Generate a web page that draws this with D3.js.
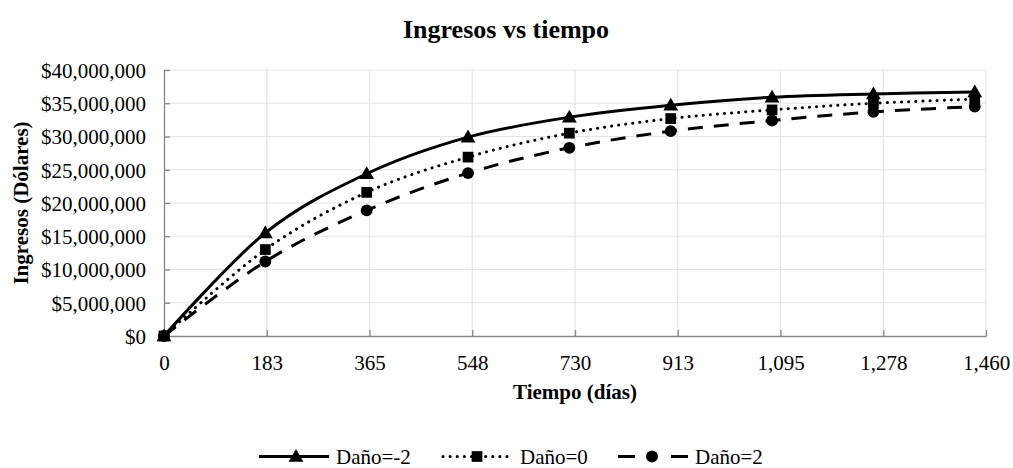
<!DOCTYPE html>
<html>
<head>
<meta charset="utf-8">
<script src="https://cdn.jsdelivr.net/npm/d3@7"></script>
<style>
  html, body { margin: 0; padding: 0; background: #fff; }
  svg { display: block; font-family: "Liberation Serif", "Times New Roman", serif; }
</style>
</head>
<body>
<svg id="chart" width="1013" height="468"></svg>
<script>
// ---- Data ----
const days = [0, 180, 360, 540, 720, 900, 1080, 1260, 1440];
const danoMinus2 = [0, 15.5e6, 24.4e6, 29.9e6, 32.9e6, 34.7e6, 35.9e6, 36.4e6, 36.7e6];
const dano0      = [0, 13.0e6, 21.6e6, 26.9e6, 30.5e6, 32.7e6, 34.0e6, 35.0e6, 35.6e6];
const dano2      = [0, 11.2e6, 18.9e6, 24.5e6, 28.3e6, 30.8e6, 32.4e6, 33.7e6, 34.5e6];
const seriesNames = ["Daño=-2", "Daño=0", "Daño=2"];
const xTickValues = [0, 182.5, 365, 547.5, 730, 912.5, 1095, 1277.5, 1460];
const xTickLabels = ["0", "183", "365", "548", "730", "913", "1,095", "1,278", "1,460"];
const yTickValues = [0, 5e6, 10e6, 15e6, 20e6, 25e6, 30e6, 35e6, 40e6];

(function () {
const svg = d3.select("#chart");
const pLeft = 164, pRight = 986, pTop = 70, pBottom = 336;

const x = d3.scaleLinear().domain([0, 1460]).range([pLeft, pRight]);
const y = d3.scaleLinear().domain([0, 40e6]).range([pBottom, pTop]);

const axisColor = "#868686";
const gridColor = "#e4e4e4";
const fontFam = "Liberation Serif";

// Gridlines
svg.append("g").selectAll("line").data(yTickValues.slice(1)).join("line")
  .attr("x1", pLeft).attr("x2", pRight)
  .attr("y1", d => y(d)).attr("y2", d => y(d))
  .attr("stroke", gridColor).attr("stroke-width", 1.2);
svg.append("g").selectAll("line").data(xTickValues.slice(1)).join("line")
  .attr("x1", d => x(d)).attr("x2", d => x(d))
  .attr("y1", pTop).attr("y2", pBottom)
  .attr("stroke", gridColor).attr("stroke-width", 1.2);

// Axes
const yAxis = d3.axisLeft(y).tickValues(yTickValues)
  .tickSizeInner(-6).tickSizeOuter(0)
  .tickFormat(d => "$" + d3.format(",")(d));
const gy = svg.append("g").attr("transform", `translate(${pLeft},0)`).call(yAxis);
gy.select(".domain").attr("stroke", axisColor).attr("stroke-width", 1.3);
gy.selectAll(".tick line").attr("stroke", axisColor).attr("stroke-width", 1.3);
gy.selectAll(".tick text").attr("x", -18).attr("dy", "0.35em").attr("fill", "#000")
  .style("font-size", "21px").style("font-family", fontFam);

const xAxis = d3.axisBottom(x).tickValues(xTickValues)
  .tickSizeInner(-6).tickSizeOuter(0)
  .tickFormat((d, i) => xTickLabels[i]);
const gx = svg.append("g").attr("transform", `translate(0,${pBottom})`).call(xAxis);
gx.select(".domain").attr("stroke", axisColor).attr("stroke-width", 1.3);
gx.selectAll(".tick line").attr("stroke", axisColor).attr("stroke-width", 1.3);
gx.selectAll(".tick text").attr("y", 34).attr("dy", 0).attr("fill", "#000")
  .style("font-size", "21px").style("font-family", fontFam);

// Titles
svg.append("text").attr("x", 506).attr("y", 38).attr("text-anchor", "middle")
  .attr("font-weight", "bold").attr("font-size", 26).text("Ingresos vs tiempo");
svg.append("text").attr("x", 575).attr("y", 399).attr("text-anchor", "middle")
  .attr("font-weight", "bold").attr("font-size", 21).text("Tiempo (días)");
svg.append("text").attr("transform", `translate(28,${(pTop + pBottom) / 2}) rotate(-90)`)
  .attr("text-anchor", "middle").attr("font-weight", "bold").attr("font-size", 21)
  .text("Ingresos (Dólares)");

// Series
const series = [
  { name: seriesNames[0], values: danoMinus2, dash: null, cap: "butt", marker: d3.symbolTriangle, size: 95 },
  { name: seriesNames[1], values: dano0, dash: "0.1 7", cap: "round", marker: d3.symbolSquare, size: 115 },
  { name: seriesNames[2], values: dano2, dash: "15 11", cap: "butt", marker: d3.symbolCircle, size: 110 }
];

const line = d3.line().x(d => x(d[0])).y(d => y(d[1])).curve(d3.curveCatmullRom.alpha(0));

series.forEach(s => {
  const pts = days.map((d, i) => [d, s.values[i]]);
  svg.append("path").datum(pts).attr("d", line)
    .attr("fill", "none").attr("stroke", "#000").attr("stroke-width", 3)
    .attr("stroke-linecap", s.cap)
    .attr("stroke-dasharray", s.dash);
});

const markerOrder = [0, 2, 1];
markerOrder.forEach(k => {
  const s = series[k];
  const sym = d3.symbol().type(s.marker).size(s.size);
  svg.append("g").selectAll("path").data(days.map((d, i) => [d, s.values[i]])).join("path")
    .attr("d", sym)
    .attr("transform", d => `translate(${x(d[0])},${y(d[1]) + (s.marker === d3.symbolTriangle ? 1 : 0)})`)
    .attr("fill", "#000");
});

// Legend
const legendY = 456.5;
const legendItems = [
  { x0: 259, mx: 296, tx: 336, dash: null },
  { x0: 443, mx: 477, tx: 520, dash: "0.1 7" },
  { x0: 618, mx: 652, tx: 695, dash: "17 36" }
];
series.forEach((s, i) => {
  const li = legendItems[i];
  svg.append("line").attr("x1", li.x0).attr("x2", li.x0 + 70)
    .attr("y1", legendY).attr("y2", legendY)
    .attr("stroke", "#000").attr("stroke-width", 3)
    .attr("stroke-linecap", s.cap)
    .attr("stroke-dasharray", li.dash);
  svg.append("path").attr("d", d3.symbol().type(s.marker).size(s.size)())
    .attr("transform", `translate(${li.mx},${legendY + (i === 0 ? 1 : 0)})`)
    .attr("fill", "#000");
  svg.append("text").attr("x", li.tx).attr("y", legendY + 7)
    .attr("font-size", 21).attr("font-family", fontFam).text(s.name);
});
})();
</script>
</body>
</html>
